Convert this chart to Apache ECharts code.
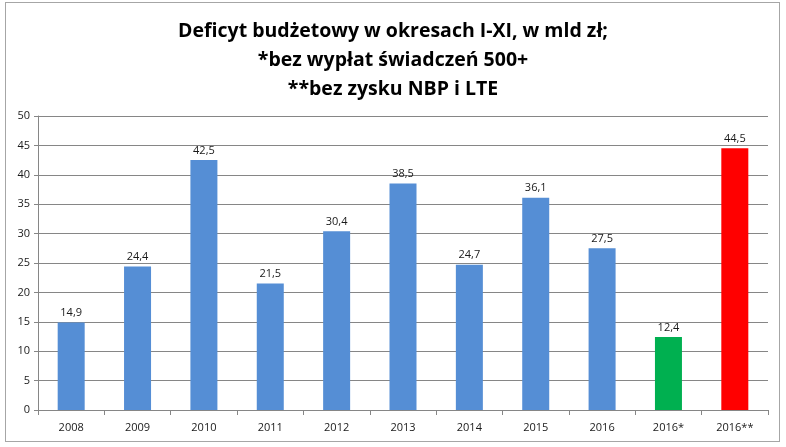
<!DOCTYPE html>
<html><head><meta charset="utf-8">
<script src="https://cdn.jsdelivr.net/npm/echarts@6/dist/echarts.min.js"></script>
<style>html,body{margin:0;padding:0;background:#fff}#c{width:786px;height:447px}
#frame{position:absolute;left:5px;top:2px;width:775px;height:440px;border:1px solid #a6a6a6;box-sizing:border-box;pointer-events:none}</style>
</head><body><div id="c"></div><div id="frame"></div>
<script>
const categories = ['2008','2009','2010','2011','2012','2013','2014','2015','2016','2016*','2016**'];
const values = [14.9, 24.4, 42.5, 21.5, 30.4, 38.5, 24.7, 36.1, 27.5, 12.4, 44.5];
const barColors = ['#558ED5','#558ED5','#558ED5','#558ED5','#558ED5','#558ED5','#558ED5','#558ED5','#558ED5','#00B050','#FF0000'];
const titleLines = ['Deficyt budżetowy w okresach I-XI, w mld zł;', '*bez wypłat świadczeń 500+', '**bez zysku NBP i LTE'];

const chart = echarts.init(document.getElementById('c'));
chart.setOption({
  animation: false,
  title: {
    text: titleLines.join('\n'),
    left: 'center', top: 12,
    textStyle: { fontFamily: 'Open Sans', fontWeight: 'bold', fontSize: 19.5, lineHeight: 29, color: '#000' }
  },
  grid: { left: 38, right: 18, top: 116, bottom: 37, containLabel: false },
  xAxis: {
    type: 'category', data: categories,
    axisLine: { lineStyle: { color: '#868686' } },
    axisTick: { show: true, length: 5, lineStyle: { color: '#868686' } },
    axisLabel: { color: '#1a1a1a', fontSize: 11, fontFamily: 'Open Sans', margin: 12 }
  },
  yAxis: {
    type: 'value', min: 0, max: 50, interval: 5,
    axisLine: { show: true, lineStyle: { color: '#868686' } },
    axisTick: { show: true, length: 4, lineStyle: { color: '#868686' } },
    splitLine: { lineStyle: { color: '#868686' } },
    axisLabel: { color: '#1a1a1a', fontSize: 11, fontFamily: 'Open Sans', margin: 8 }
  },
  series: [{
    type: 'bar', barWidth: 27,
    data: values.map((v, i) => ({ value: v, itemStyle: { color: barColors[i] } })),
    label: { show: true, position: 'top', distance: 4, color: '#1a1a1a', fontSize: 11, fontFamily: 'Open Sans',
      formatter: p => String(p.value).replace('.', ',') }
  }]
});
</script></body></html>
